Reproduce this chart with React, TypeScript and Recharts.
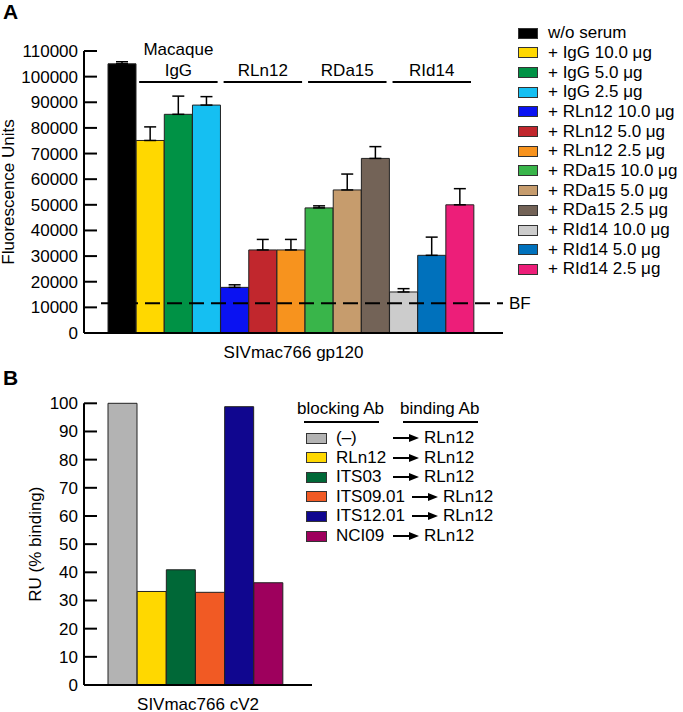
import React from 'react';
import { BarChart, Bar, Cell, XAxis, YAxis, ErrorBar, ReferenceLine, ReferenceArea } from 'recharts';

const FONT = '"Liberation Sans", Arial, Helvetica, sans-serif';
const FS = 17;

// Panel A: serum blocking
const seriesA = [
  'w/o serum',
  '+ IgG 10.0 μg',
  '+ IgG 5.0 μg',
  '+ IgG 2.5 μg',
  '+ RLn12 10.0 μg',
  '+ RLn12 5.0 μg',
  '+ RLn12 2.5 μg',
  '+ RDa15 10.0 μg',
  '+ RDa15 5.0 μg',
  '+ RDa15 2.5 μg',
  '+ RId14 10.0 μg',
  '+ RId14 5.0 μg',
  '+ RId14 2.5 μg',
];
const valuesA = [105000, 75100, 85300, 88900, 17800, 32400, 32400, 48800, 55800, 68100, 16000, 30300, 50000];
const errorsA = [800, 5300, 7100, 3300, 1000, 4100, 4100, 800, 6200, 4600, 1300, 7100, 6300];
const colorsA = [
  '#000000', '#FFD800', '#009245', '#15BFF2', '#0A12F2', '#C1272D', '#F7931E',
  '#39B54A', '#C69C6D', '#736357', '#CCCCCC', '#0071BC', '#ED1E79',
];
const ticksA = [0, 10000, 20000, 30000, 40000, 50000, 60000, 70000, 80000, 90000, 100000, 110000];
const groupLabels = ['IgG', 'RLn12', 'RDa15', 'RId14'];
const groupTopLabels = ['Macaque', '', '', ''];
const groupFirst = [1, 4, 7, 10];
const groupLast = [3, 6, 9, 12];
const bracketLevel = 97900;
const bfLevel = 11600;

// Panel B: cross-blocking
const blockingAb = ['(–)', 'RLn12', 'ITS03', 'ITS09.01', 'ITS12.01', 'NCI09'];
const bindingAb = ['RLn12', 'RLn12', 'RLn12', 'RLn12', 'RLn12', 'RLn12'];
const valuesB = [100, 33.2, 40.9, 32.9, 98.8, 36.3];
const colorsB = ['#B3B3B3', '#FFD800', '#006837', '#F15A24', '#10068F', '#9E005D'];
const ticksB = [0, 10, 20, 30, 40, 50, 60, 70, 80, 90, 100];

const dataA = seriesA.map((name, i) => ({ name, value: valuesA[i], err: [0, errorsA[i]] }));
const dataB = blockingAb.map((name, i) => ({ name, value: valuesB[i] }));

const textStyle = { fontFamily: FONT, fontSize: FS, fill: '#000' };

// ticks point into the plot, labels stay outside
const InwardTick = (props: any) => {
  const { x, y, payload } = props;
  return (
    <g>
      <line x1={x} x2={x + 13} y1={y} y2={y} stroke="#000" strokeWidth={2} />
      <text x={x - 6} y={y + 6} textAnchor="end" style={textStyle}>
        {payload.value}
      </text>
    </g>
  );
};

const yLabel = (text: string, bx: number) => (props: any) => {
  const { viewBox } = props;
  const cy = viewBox.y + viewBox.height / 2;
  return (
    <text x={bx} y={cy} textAnchor="middle" transform={`rotate(-90, ${bx}, ${cy})`} style={textStyle}>
      {text}
    </text>
  );
};

const xLabel = (text: string, dy: number) => (props: any) => {
  const { viewBox } = props;
  return (
    <text x={viewBox.x + viewBox.width / 2} y={viewBox.y + dy} textAnchor="middle" style={textStyle}>
      {text}
    </text>
  );
};

const bracketShape = (label: string, top: string) => (props: any) => {
  const { x, y, width, height } = props;
  const ly = y + height / 2;
  const cx = x + width / 2;
  return (
    <g>
      <line x1={x + 3} x2={x + width - 3} y1={ly} y2={ly} stroke="#000" strokeWidth={2} />
      <text x={cx} y={ly - 6.5} textAnchor="middle" style={textStyle}>{label}</text>
      {top && <text x={cx} y={ly - 27} textAnchor="middle" style={textStyle}>{top}</text>}
    </g>
  );
};

const bfShape = (props: any) => (
  <line
    x1={props.x1 + 17}
    y1={props.y1}
    x2={props.x2}
    y2={props.y2}
    stroke="#000"
    strokeWidth={2}
    strokeDasharray="15 7"
  />
);

const Swatch = ({ color, w }: { color: string; w: number }) => (
  <div style={{ width: w, height: 11, background: color, border: '1px solid #333', boxSizing: 'border-box' }} />
);

const Arrow = () => (
  <svg width={26} height={10} style={{ display: 'block' }}>
    <line x1={0} y1={5} x2={18} y2={5} stroke="#000" strokeWidth={2} />
    <polygon points="16,1 26,5 16,9" fill="#000" />
  </svg>
);

export default function App() {
  return (
    <div style={{ position: 'absolute', left: 0, top: 0, width: 683, height: 712, background: '#fff', fontFamily: FONT }}>
      <div style={{ position: 'absolute', left: 3, top: 0, fontSize: 21, fontWeight: 'bold' }}>A</div>
      <div style={{ position: 'absolute', left: 3, top: 366, fontSize: 21, fontWeight: 'bold' }}>B</div>

      <div style={{ position: 'absolute', left: 0, top: 0 }}>
        <BarChart
          width={683}
          height={372}
          data={dataA}
          margin={{ top: 51, right: 180, bottom: 0, left: 0 }}
          barCategoryGap={0}
        >
          <XAxis
            dataKey="name"
            tick={false}
            tickLine={false}
            axisLine={{ stroke: '#000', strokeWidth: 2 }}
            height={39}
            padding={{ left: 24, right: 29 }}
            label={xLabel('SIVmac766 gp120', 25)}
          />
          <YAxis
            domain={[0, 110000]}
            ticks={ticksA}
            interval={0}
            width={84}
            tickLine={false}
            tickSize={0}
            tickMargin={0}
            tick={<InwardTick />}
            axisLine={{ stroke: '#000', strokeWidth: 2 }}
            label={yLabel('Fluorescence Units', 13.5)}
          />
          <Bar dataKey="value" isAnimationActive={false} stroke="#222" strokeWidth={1}>
            {dataA.map((d, i) => (
              <Cell key={d.name} fill={colorsA[i]} stroke="#222" />
            ))}
            <ErrorBar dataKey="err" width={6} stroke="#000" strokeWidth={1.5} direction="y" isAnimationActive={false} />
          </Bar>
          <ReferenceLine
            y={bfLevel}
            shape={bfShape}
            label={{ value: 'BF', position: 'right', offset: 6, fill: '#000', fontSize: FS, fontFamily: FONT }}
          />
          {groupLabels.map((g, i) => (
            <ReferenceArea
              key={g}
              x1={seriesA[groupFirst[i]]}
              x2={seriesA[groupLast[i]]}
              y1={bracketLevel - 100}
              y2={bracketLevel + 100}
              shape={bracketShape(g, groupTopLabels[i])}
            />
          ))}
        </BarChart>
      </div>

      {/* legend A */}
      {seriesA.map((s, i) => (
        <div
          key={s}
          style={{
            position: 'absolute',
            left: 518,
            top: 33.3 + i * 19.67 - 10,
            height: 20,
            display: 'flex',
            alignItems: 'center',
            fontSize: FS,
            lineHeight: '20px',
            whiteSpace: 'nowrap',
          }}
        >
          <Swatch color={colorsA[i]} w={20} />
          <span style={{ marginLeft: 10 }}>{s}</span>
        </div>
      ))}

      <div style={{ position: 'absolute', left: 0, top: 360 }}>
        <BarChart
          width={683}
          height={352}
          data={dataB}
          margin={{ top: 43.3, right: 371, bottom: 0, left: 0 }}
          barCategoryGap={0}
        >
          <XAxis
            dataKey="name"
            tick={false}
            tickLine={false}
            axisLine={{ stroke: '#000', strokeWidth: 2 }}
            height={27}
            padding={{ left: 24, right: 29 }}
            label={xLabel('SIVmac766 cV2', 24.5)}
          />
          <YAxis
            domain={[0, 100]}
            ticks={ticksB}
            interval={0}
            width={84}
            tickLine={false}
            tickSize={0}
            tickMargin={0}
            tick={<InwardTick />}
            axisLine={{ stroke: '#000', strokeWidth: 2 }}
            label={yLabel('RU (% binding)', 41.5)}
          />
          <Bar dataKey="value" isAnimationActive={false} stroke="#222" strokeWidth={1}>
            {dataB.map((d, i) => (
              <Cell key={d.name} fill={colorsB[i]} stroke="#222" />
            ))}
          </Bar>
        </BarChart>
      </div>

      {/* legend B */}
      <div style={{ position: 'absolute', left: 297, top: 399, fontSize: FS, lineHeight: '20px' }}>blocking Ab</div>
      <div style={{ position: 'absolute', left: 304, top: 421, width: 75, height: 2, background: '#000' }} />
      <div style={{ position: 'absolute', left: 400, top: 399, fontSize: FS, lineHeight: '20px' }}>binding Ab</div>
      <div style={{ position: 'absolute', left: 403, top: 421, width: 75, height: 2, background: '#000' }} />
      {blockingAb.map((b, i) => (
        <div
          key={b}
          style={{
            position: 'absolute',
            left: 306,
            top: 438 + i * 19.6 - 10,
            height: 20,
            display: 'flex',
            alignItems: 'center',
            fontSize: FS,
            lineHeight: '20px',
            whiteSpace: 'nowrap',
          }}
        >
          <Swatch color={colorsB[i]} w={21} />
          <span style={{ marginLeft: 9, minWidth: 50 }}>{b}</span>
          <span style={{ marginLeft: 7 }}><Arrow /></span>
          <span style={{ marginLeft: 5 }}>{bindingAb[i]}</span>
        </div>
      ))}
    </div>
  );
}
